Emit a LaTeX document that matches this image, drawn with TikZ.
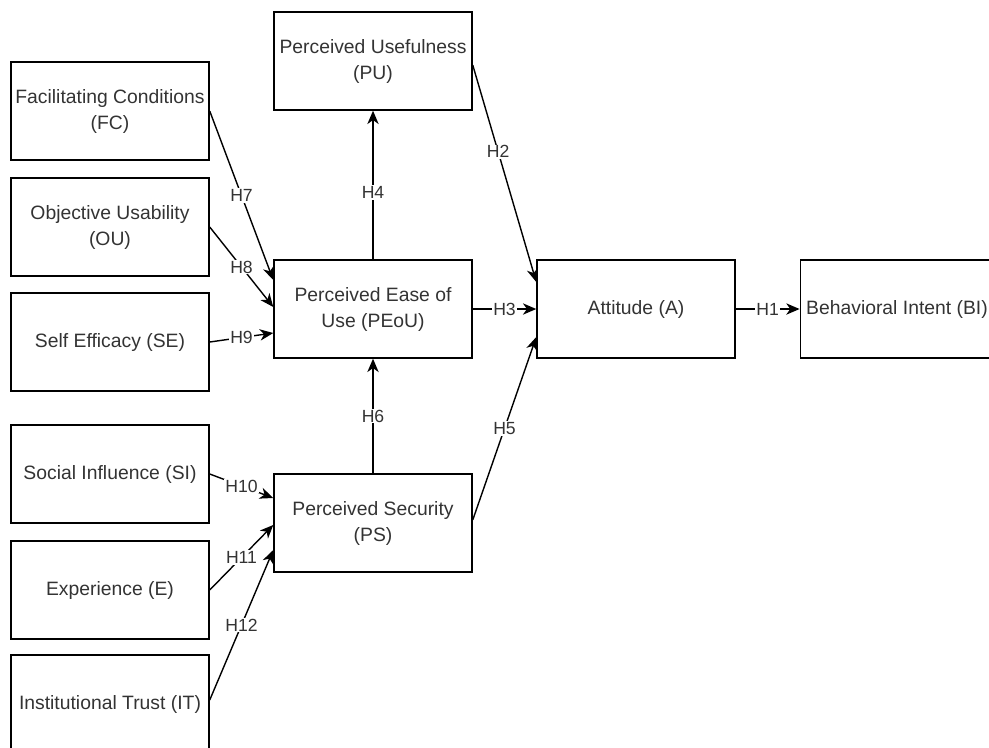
\documentclass[tikz,border=0pt]{standalone}
\usepackage{fontspec}
\setmainfont{Liberation Sans}
\usetikzlibrary{arrows.meta,calc}
\begin{document}
\begin{tikzpicture}[x=0.75pt,y=-0.75pt,
  box/.style={draw=black, line width=1.1pt, rectangle, minimum width=148.5pt, minimum height=73.5pt, inner sep=0pt, align=center, text=black!80, font=\fontsize{14.5}{19.5}\selectfont},
  conn/.style={line width=1.05pt, -{Stealth[length=10pt,width=8.5pt,inset=3pt]}},
  lab/.style={fill=white, inner sep=0.8pt, text=black!80, font=\fontsize{13.2}{14}\selectfont}]
\useasboundingbox (0,0) rectangle (989,747);
\clip (0,0) rectangle (989,747);

\node[box] (PU) at (373,61) {Perceived Usefulness\\(PU)};
\node[box] (FC) at (110,111) {Facilitating Conditions\\(FC)};
\node[box] (OU) at (110,227) {Objective Usability\\(OU)};
\node[box] (SE) at (110,342) {Self Efficacy (SE)};
\node[box] (PEOU) at (373,309) {Perceived Ease of\\Use (PEoU)};
\node[box] (SI) at (110,474) {Social Influence (SI)};
\node[box] (E) at (110,590) {Experience (E)};
\node[box] (IT) at (110,704) {Institutional Trust (IT)};
\node[box] (PS) at (373,523) {Perceived Security\\(PS)};
\node[box] (A) at (636,309) {Attitude (A)};
\node[box, minimum width=145pt] (BI) at (897,309) {Behavioral Intent (BI)};

\draw[conn] (PEOU) -- node[lab, pos=0.45]{H4} (PU);
\draw[conn] (PS) -- node[lab]{H6} (PEOU);
\draw[conn] (PEOU) -- node[lab]{H3} (A);
\draw[conn] (A) -- node[lab]{H1} (BI);
\draw[conn] ($(PU.east)+(0,4)$) -- node[lab, pos=0.4]{H2} ($(A.west)+(0,-27)$);
\draw[conn] ($(PS.east)+(0,-3)$) -- node[lab]{H5} ($(A.west)+(0,28)$);
\draw[conn] (FC.east) -- node[lab]{H7} ($(PEOU.west)+(0,-29)$);
\draw[conn] (OU.east) -- node[lab]{H8} ($(PEOU.west)+(0,-2)$);
\draw[conn] (SE.east) -- node[lab]{H9} ($(PEOU.west)+(0,24)$);
\draw[conn] (SI.east) -- node[lab]{H10} ($(PS.west)+(0,-25)$);
\draw[conn] (E.east) -- node[lab]{H11} ($(PS.west)+(0,2)$);
\draw[conn] ($(IT.east)+(0,-4)$) -- node[lab]{H12} ($(PS.west)+(0,27)$);
\end{tikzpicture}
\end{document}
